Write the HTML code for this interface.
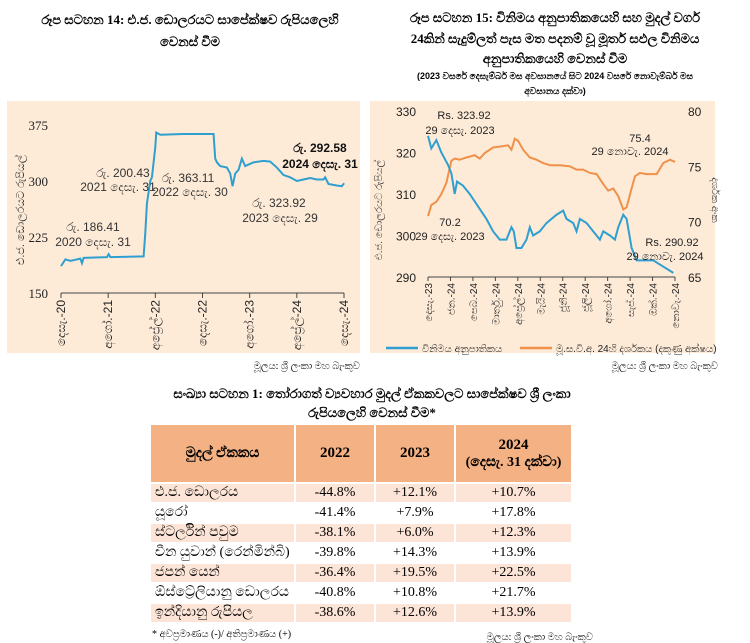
<!DOCTYPE html>
<html><head><meta charset="utf-8">
<style>
body{margin:0;background:#fff;font-family:"Liberation Serif",serif;}
#wrap{position:relative;width:750px;height:643px;overflow:hidden;background:#fff;}
svg{position:absolute;left:0;top:0;}
.t{font-family:"Liberation Serif",serif;}
.s{font-family:"Liberation Sans",sans-serif;}
table{position:absolute;left:149px;top:423px;border-collapse:separate;border-spacing:2px;font-family:"Liberation Serif",serif;font-size:14px;}
td{padding:0 4px;height:18px;}
th{background:#f4b183;height:55px;font-size:14px;}
tr.o td{background:#fce4d6;}
td.n{text-align:center;}
</style></head><body>
<div id="wrap">
<svg id="svg" width="750" height="643">
<text class="t" x="190" y="24" text-anchor="middle" font-size="13" font-weight="bold">රූප සටහන 14: එ.ජ. ඩොලරයට සාපේක්ෂව රුපියලෙහි</text>
<text class="t" x="190" y="46" text-anchor="middle" font-size="13" font-weight="bold">වෙනස් වීම</text>
<text class="t" x="555" y="22" text-anchor="middle" font-size="13" font-weight="bold">රූප සටහන 15: විනිමය අනුපාතිකයෙහි සහ මුදල් වර්ග</text>
<text class="t" x="555" y="43" text-anchor="middle" font-size="13" font-weight="bold">24කින් සැදුම්ලත් පැස මත පදනම් වූ මූර්ත සඵල විනිමය</text>
<text class="t" x="555" y="63" text-anchor="middle" font-size="13" font-weight="bold">අනුපාතිකයෙහි වෙනස් වීම</text>
<text class="s" x="555" y="79" text-anchor="middle" font-size="9" font-weight="bold">(2023 වසරේ දෙසැම්බර් මස අවසානයේ සිට 2024 වසරේ නොවැම්බර් මස</text>
<text class="s" x="555" y="94" text-anchor="middle" font-size="9" font-weight="bold">අවසානය දක්වා)</text>
<rect x="7" y="101" width="353" height="252" fill="#fdebd8"/>
<rect x="370" y="101" width="345" height="252" fill="#fdebd8"/>
<g id="L"></g><g id="R"></g>
<text class="t" x="360" y="369" text-anchor="end" font-size="10">මූලය: ශ්‍රී ලංකා මහ බැංකුව</text>
<text class="t" x="718" y="369" text-anchor="end" font-size="10">මූලය: ශ්‍රී ලංකා මහ බැංකුව</text>
<text class="t" x="372" y="398" text-anchor="middle" font-size="13" font-weight="bold">සංඛ්‍යා සටහන 1: තෝරාගත් ව්‍යවහාර මුදල් ඒකකවලට සාපේක්ෂව ශ්‍රී ලංකා</text>
<text class="t" x="372" y="417" text-anchor="middle" font-size="13" font-weight="bold">රුපියලෙහි වෙනස් වීම*</text>
<text class="t" x="152" y="637" font-size="10">* අවප්‍රමාණය (-)/ අතිප්‍රමාණය (+)</text>
<text class="t" x="593" y="640" text-anchor="end" font-size="10">මූලය: ශ්‍රී ලංකා මහ බැංකුව</text>
</svg>
<table>
<tr><th style="width:141px">මුදල් ඒකකය</th><th style="width:76px;font-size:15px">2022</th><th style="width:76px;font-size:15px">2023</th><th style="width:113px;font-size:15px">2024<br><span style="font-weight:bold;font-size:14px">(දෙසැ. 31 දක්වා)</span></th></tr>
<tr class="o"><td>එ.ජ. ඩොලරය</td><td class="n">-44.8%</td><td class="n">+12.1%</td><td class="n">+10.7%</td></tr>
<tr><td>යූරෝ</td><td class="n">-41.4%</td><td class="n">+7.9%</td><td class="n">+17.8%</td></tr>
<tr class="o"><td>ස්ටර්ලින් පවුම</td><td class="n">-38.1%</td><td class="n">+6.0%</td><td class="n">+12.3%</td></tr>
<tr><td>චීන යුවාන් (රෙන්මින්බි)</td><td class="n">-39.8%</td><td class="n">+14.3%</td><td class="n">+13.9%</td></tr>
<tr class="o"><td>ජපන් යෙන්</td><td class="n">-36.4%</td><td class="n">+19.5%</td><td class="n">+22.5%</td></tr>
<tr><td>ඕස්ට්‍රේලියානු ඩොලරය</td><td class="n">-40.8%</td><td class="n">+10.8%</td><td class="n">+21.7%</td></tr>
<tr class="o"><td>ඉන්දියානු රුපියල</td><td class="n">-38.6%</td><td class="n">+12.6%</td><td class="n">+13.9%</td></tr>
</table>
</div>
<script>
// Left chart data (x in zoom units -> months since Dec-20)
const leftX=[182,195,210,240,245,250,320,325,330,430,435,440,450,455,460,465,468,480,550,640,645,650,660,680,690,697,705,715,725,735,760,790,810,830,850,870,890,910,930,950,970,975,985,1010,1025,1032];
const leftVals=[186,195,193,196,190,197,198,202,198,199,230,270,300,305,325,345,365,362,363,363,330,325,320,318,310,293,310,315,330,320,325,327,326,318,308,305,300,302,304,302,302,305,296,294,293,297];
const leftTicks=[150,225,300,375];
const leftXLabels=['දෙසැ.-20','අගෝ.-21','අප්‍රේල්-22','දෙසැ.-22','අගෝ.-23','අප්‍රේල්-24','දෙසැ.-24'];
const leftXMonths=[0,8,16,24,32,40,48];
// Right chart data
const rightX=[175,185,200,215,235,245,255,262,280,300,325,350,370,390,410,425,432,440,455,470,480,490,510,530,560,580,590,610,620,630,650,670,690,700,720,735,745,760,770,785,800,815,830,850,870,890,910];
const rateVals=[324,321,323,320,317,315,310,313,312,310,307,304,301,299,299,302,301,297,297,299,302,300,301,303,305,306,304,303,301,304,303,301,299,301,300,299,302,305,304,297,294,294,294,294,293,292,291];
const reerX=[175,185,200,215,230,245,255,270,290,315,330,345,370,395,415,425,435,445,460,480,500,520,540,570,600,620,640,660,680,700,715,730,745,760,770,785,795,810,830,860,880,900,915];
const reerVals=[70.5,71.5,71.8,72.5,73.5,75.5,75.7,75.6,75.8,76.0,75.7,76.2,76.7,76.8,76.9,76.5,77.5,77.3,76.5,75.8,75.6,75.3,75.1,75.1,75.0,74.7,74.7,74.4,74.3,73.4,72.8,73.0,72.3,71.1,71.3,73.0,74.1,74.4,74.3,74.3,75.3,75.6,75.4];
const rLeftTicks=[290,300,310,320,330];
const rRightTicks=[65,70,75,80];
const rXLabels=['දෙසැ.-23','ජන.-24','පෙබ.-24','මාර්තු.-24','අප්‍රේල්-24','මැයි-24','ජූනි-24','ජූලි-24','අගෝ.-24','සැප්.-24','ඔක්.-24','නොවැ.-24'];

const NS='http://www.w3.org/2000/svg';
function mk(p,tag,at,txt){const e=document.createElementNS(NS,tag);for(const k in at)e.setAttribute(k,at[k]);if(txt!==undefined)e.textContent=txt;p.appendChild(e);return e;}
const L=document.getElementById('L');
const lx=m=>61+m*(344-61)/48, ly=v=>293-(v-150)*(293-125)/225;
const lm=z=>(z-182)/17.7;
mk(L,'line',{x1:61,y1:293,x2:344,y2:293,stroke:'#444','stroke-width':1});
leftTicks.forEach(v=>{const t=mk(L,'text',{x:48,y:ly(v)+5,'text-anchor':'end','font-size':13,class:'t',fill:'#222'},v);
});
leftXMonths.forEach((m,i)=>{mk(L,'line',{x1:lx(m),y1:293,x2:lx(m),y2:298,stroke:'#444'});
const t=mk(L,'text',{transform:`translate(${lx(m)+4},300) rotate(-90)`,'text-anchor':'end','font-size':12,class:'s',fill:'#222'},leftXLabels[i]);
});
const ly1=mk(L,'text',{transform:'translate(24,210) rotate(-90)','text-anchor':'middle','font-size':11,class:'s',fill:'#333'},'එ.ජ. ඩොලරයට රුපියල්');

const lp=mk(L,'polyline',{points:leftX.map((z,i)=>lx(lm(z))+','+ly(leftVals[i])).join(' '),fill:'none',stroke:'#2e9fd0','stroke-width':2});

[[93,231,'රු. 186.41'],[93,246,'2020 දෙසැ. 31'],[123,177,'රු. 200.43'],[118,191,'2021 දෙසැ. 31'],[188,182,'රු. 363.11'],[190,196,'2022 දෙසැ. 30'],[279,207,'රු. 323.92'],[280,222,'2023 දෙසැ. 29']].forEach(a=>{
const t=mk(L,'text',{x:a[0],y:a[1],'text-anchor':'middle','font-size':12,class:'s',fill:'#333'},a[2]);
});
[[320,152,'රු. 292.58'],[320,168,'2024 දෙසැ. 31']].forEach(a=>{
const t=mk(L,'text',{x:a[0],y:a[1],'text-anchor':'middle','font-size':12,'font-weight':'bold',class:'s',fill:'#111'},a[2]);
});
const R=document.getElementById('R');
const rx=m=>428+m*(675-428)/11, ryl=v=>277-(v-290)*(277-111)/40, ryr=v=>277-(v-65)*(277-111)/15;
const rm=z=>(z-175)/67.27;
mk(R,'line',{x1:428,y1:277,x2:675,y2:277,stroke:'#444'});
rLeftTicks.forEach(v=>{const t=mk(R,'text',{x:416,y:ryl(v)+5,'text-anchor':'end','font-size':12,class:'s',fill:'#222'},v);
});
rRightTicks.forEach(v=>{const t=mk(R,'text',{x:688,y:ryr(v)+5,'font-size':12,class:'s',fill:'#222'},v);
});
rXLabels.forEach((s,i)=>{mk(R,'line',{x1:rx(i),y1:277,x2:rx(i),y2:281,stroke:'#444'});
const t=mk(R,'text',{transform:`translate(${rx(i)+4},283) rotate(-90)`,'text-anchor':'end','font-size':10,class:'s',fill:'#222'},s);
});
const ry1=mk(R,'text',{transform:'translate(382,210) rotate(-90)','text-anchor':'middle','font-size':10,class:'s',fill:'#333'},'එ.ජ. ඩොලරයට රුපියල්');

const ry2=mk(R,'text',{transform:'translate(712,200) rotate(90)','text-anchor':'middle','font-size':10,class:'s',fill:'#333'},'දර්ශක අංක');

const op=mk(R,'polyline',{points:reerX.map((z,i)=>rx(rm(z))+','+ryr(reerVals[i])).join(' '),fill:'none',stroke:'#f0914a','stroke-width':2});

const bp=mk(R,'polyline',{points:rightX.map((z,i)=>rx(rm(z))+','+ryl(rateVals[i])).join(' '),fill:'none',stroke:'#2e9fd0','stroke-width':2});

[[464,119,'Rs. 323.92'],[460,134,'29 දෙසැ. 2023'],[450,226,'70.2'],[450,240,'29 දෙසැ. 2023'],[640,142,'75.4'],[630,155,'29 නොවැ. 2024'],[672,246,'Rs. 290.92'],[665,260,'29 නොවැ. 2024']].forEach(a=>{
const t=mk(R,'text',{x:a[0],y:a[1],'text-anchor':'middle','font-size':11,class:'s',fill:'#222'},a[2]);
});
mk(R,'line',{x1:386,y1:348,x2:418,y2:348,stroke:'#2e9fd0','stroke-width':2.5});
const lg1=mk(R,'text',{x:422,y:352,'font-size':10,class:'s',fill:'#222'},'විනිමය අනුපාතිකය');

mk(R,'line',{x1:520,y1:348,x2:552,y2:348,stroke:'#f0914a','stroke-width':2.5});
const lg2=mk(R,'text',{x:556,y:352,'font-size':10,class:'s',fill:'#222'},'මූ.ස.වි.අ. 24හි දර්ශකය (දකුණු අක්ෂය)');

</script>
</body></html>
